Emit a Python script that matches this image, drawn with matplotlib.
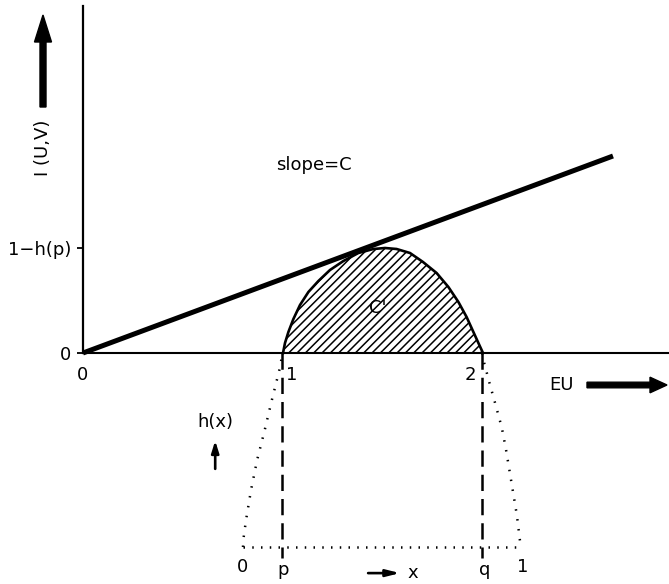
import matplotlib
matplotlib.use("Agg")
import matplotlib.pyplot as plt

plt.rcParams["hatch.linewidth"] = 1.1

# Upper diagram: information I(U,V) versus expected utility EU
eu_dome = [1.0, 1.01, 1.027, 1.052, 1.085, 1.127, 1.177, 1.235, 1.302, 1.377,
           1.452, 1.51, 1.568, 1.635, 1.70, 1.768, 1.827, 1.877, 1.918, 1.952,
           1.977, 2.0]
i_dome = [0.0, 0.05, 0.105, 0.17, 0.24, 0.305, 0.36, 0.415, 0.46, 0.50,
          0.52, 0.525, 0.52, 0.50, 0.455, 0.40, 0.33, 0.255, 0.18, 0.105,
          0.05, 0.0]
eu_line = [0.0, 2.65]
i_line = [0.0, 0.985]
peak_i = 0.525            # 1 - h(p)
eu_ticks = [0, 1, 2]
eu_tick_labels = ["0", "1", "2"]

# Lower diagram: h(x) on [0, 1] with the end pieces [0, p] and [q, 1]
p_val, q_val = 0.142, 0.86
h_top = 0.587
x_left = [0.0, 0.001, 0.011, 0.029, 0.051, 0.077, 0.103, 0.133, 0.142]
h_left = [0.0, 0.021, 0.082, 0.173, 0.264, 0.350, 0.442, 0.543, 0.587]
x_right = [0.86, 0.864, 0.888, 0.910, 0.931, 0.946, 0.960, 0.972, 0.985, 0.996, 1.0]
h_right = [0.587, 0.568, 0.492, 0.426, 0.361, 0.295, 0.224, 0.163, 0.097, 0.021, 0.0]

W, H = 669, 584
fig = plt.figure(figsize=(W / 100, H / 100), dpi=100)
fs = 13

# main axes: 200 px per unit on both axes, origin at pixel (83, 353)
ax = fig.add_axes([0, 0, 1, 1])
ax.set_xlim((0 - 83) / 200, (W - 83) / 200)
ax.set_ylim((353 - H) / 200, 353 / 200)
ax.patch.set_alpha(0)
for s in ("top", "right"):
    ax.spines[s].set_visible(False)
ax.spines["left"].set_position(("data", 0))
ax.spines["bottom"].set_position(("data", 0))
ax.spines["left"].set_bounds(0, 1.735)
ax.spines["bottom"].set_bounds(0, (W - 83) / 200)
ax.spines["left"].set_linewidth(1.6)
ax.spines["bottom"].set_linewidth(1.5)
ax.set_xticks([])
ax.set_yticks([0, peak_i])
ax.set_yticklabels(["0", "1−h(p)"], fontsize=fs)
ax.tick_params(axis="y", direction="out", length=4.5, width=1.3, pad=4)

# hatched region C'
ax.fill_between(eu_dome, 0, i_dome, facecolor="white", edgecolor="black",
                hatch="////", linewidth=0, zorder=2)
ax.plot(eu_dome, i_dome, color="black", lw=1.9, zorder=3)
ax.plot(eu_line, i_line, color="black", lw=3.6, solid_capstyle="butt", zorder=4)

# EU labels under the axis
offsets = [0.0, 0.045, -0.065]
for v, lab, d in zip(eu_ticks, eu_tick_labels, offsets):
    ax.text(v + d, -0.11, lab, fontsize=fs, ha="center", va="center")

ax.text(1.155, 0.94, "slope=C", fontsize=fs, ha="center", va="center")
ax.text(1.475, 0.225, "C'", fontsize=fs, ha="center", va="center", zorder=5)

# axis titles with arrows
ax.text(-0.2, 1.025, "I (U,V)", fontsize=fs, rotation=90, ha="center", va="center")
ax.arrow(-0.2, 1.23, 0, 0.46, width=0.03, head_width=0.085, head_length=0.135,
         length_includes_head=True, color="black", clip_on=False)
ax.text(2.395, -0.16, "EU", fontsize=fs, ha="center", va="center")
ax.arrow(2.52, -0.16, 0.40, 0, width=0.028, head_width=0.078, head_length=0.085,
         length_includes_head=True, color="black", clip_on=False)

# lower axes for h(x)
bx = fig.add_axes([243 / W, (H - 547) / H, 278 / W, 194 / H])
bx.set_xlim(0, 1)
bx.set_ylim(0, h_top)
bx.axis("off")
bx.patch.set_alpha(0)

dot = dict(color="black", lw=1.8, linestyle=(0, (0.6, 3.4)), clip_on=False)
bx.plot(x_left, h_left, **dot)
bx.plot(x_right, h_right, **dot)
bx.plot([0, 1], [0, 0], color="black", lw=1.8, linestyle=(0, (0.6, 2.9)), clip_on=False)
for xv in (p_val, q_val):
    bx.plot([xv, xv], [h_top, -0.032], color="black", lw=1.8,
            dashes=(6.5, 3.2), clip_on=False)

bx.text(0.0, -0.061, "0", fontsize=fs, ha="center", va="center")
bx.text(p_val + 0.003, -0.07, "p", fontsize=fs, ha="center", va="center")
bx.text(q_val + 0.01, -0.07, "q", fontsize=fs, ha="center", va="center")
bx.text(1.005, -0.061, "1", fontsize=fs, ha="center", va="center")
bx.text(-0.10, 0.377, "h(x)", fontsize=fs, ha="center", va="center")
bx.annotate("", xy=(-0.10, 0.330), xytext=(-0.10, 0.228),
            arrowprops=dict(arrowstyle="-|>,head_length=0.7,head_width=0.22",
                            color="black", lw=1.9), annotation_clip=False)
bx.annotate("", xy=(0.575, -0.079), xytext=(0.44, -0.079),
            arrowprops=dict(arrowstyle="-|>,head_length=0.8,head_width=0.2",
                            color="black", lw=1.9), annotation_clip=False)
bx.text(0.612, -0.079, "x", fontsize=fs, ha="center", va="center")

fig.savefig("out.png", dpi=100)
